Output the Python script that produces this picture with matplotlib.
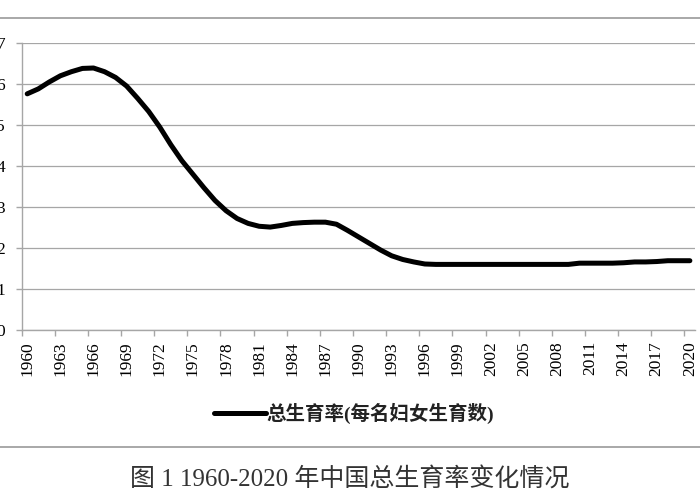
import matplotlib
matplotlib.use("Agg")
import matplotlib.pyplot as plt
from matplotlib.lines import Line2D
import numpy as np

# total fertility rate, China
years = list(range(1960, 2021))
tfr = [5.76, 5.88, 6.05, 6.20, 6.30, 6.38, 6.39, 6.30, 6.16, 5.95,
       5.65, 5.33, 4.95, 4.52, 4.13, 3.80, 3.47, 3.16, 2.91, 2.72,
       2.60, 2.53, 2.51, 2.55, 2.60, 2.62, 2.63, 2.63, 2.58, 2.43,
       2.27, 2.11, 1.95, 1.81, 1.72, 1.66, 1.61, 1.60, 1.60, 1.60,
       1.60, 1.60, 1.60, 1.60, 1.60, 1.60, 1.60, 1.60, 1.60, 1.60,
       1.63, 1.63, 1.63, 1.63, 1.64, 1.66, 1.66, 1.67, 1.69, 1.69,
       1.69]
series_name = "总生育率(每名妇女生育数)"
caption = "图 1 1960-2020 年中国总生育率变化情况"

fonts = ["Liberation Serif", "Noto Sans CJK SC", "DejaVu Sans"]
plt.rcParams["font.family"] = fonts

W, H = 700, 500
fig = plt.figure(figsize=(W / 100, H / 100), dpi=100)
ax = fig.add_axes([21.7 / W, 1 - 330 / H, (695.4 - 21.7) / W, (330 - 43) / H])

x = np.arange(len(years))
ax.plot(x, tfr, color="black", lw=3.6, solid_capstyle="round",
        solid_joinstyle="round", label=series_name)

ax.set_xlim(-0.5, len(years) - 0.5)
ax.set_ylim(0, 7)
ax.set_yticks(range(0, 8))
ax.grid(axis="y", color="#a6a6a6", lw=0.9)
ax.set_axisbelow(True)

# labels every 3 years, tick marks between categories
ax.set_xticks(x[::3])
ax.set_xticklabels([str(y) for y in years[::3]], rotation=90, fontsize=12.5)
ax.set_xticks(np.arange(-0.5, len(years), 3), minor=True)
ax.tick_params(axis="x", which="major", length=0, pad=8)
ax.tick_params(axis="x", which="minor", length=4, color="#a6a6a6", width=1)
ax.tick_params(axis="y", length=4, color="#a6a6a6", width=1, pad=8, labelsize=12.5)

for s in ("top", "right"):
    ax.spines[s].set_visible(False)
for s in ("left", "bottom"):
    ax.spines[s].set_color("#a6a6a6")
    ax.spines[s].set_linewidth(1)

leg = fig.legend(loc="center", bbox_to_anchor=(354 / W, 1 - 413 / H), frameon=False,
                 handlelength=2.7, handletextpad=0.0, fontsize=14)
for t in leg.get_texts():
    t.set_fontweight("bold")
    t.set_color("#222222")

# thin rules at the top and above the caption
fig.add_artist(Line2D([0, 1], [1 - 18 / H] * 2, color="#999999", lw=1.2))
fig.add_artist(Line2D([0, 1], [1 - 447 / H] * 2, color="#999999", lw=1.2))

fig.text(350 / W, 1 - 479 / H, caption, ha="center", va="center",
         fontsize=18, color="#333333")

fig.savefig("out.png", dpi=100)
